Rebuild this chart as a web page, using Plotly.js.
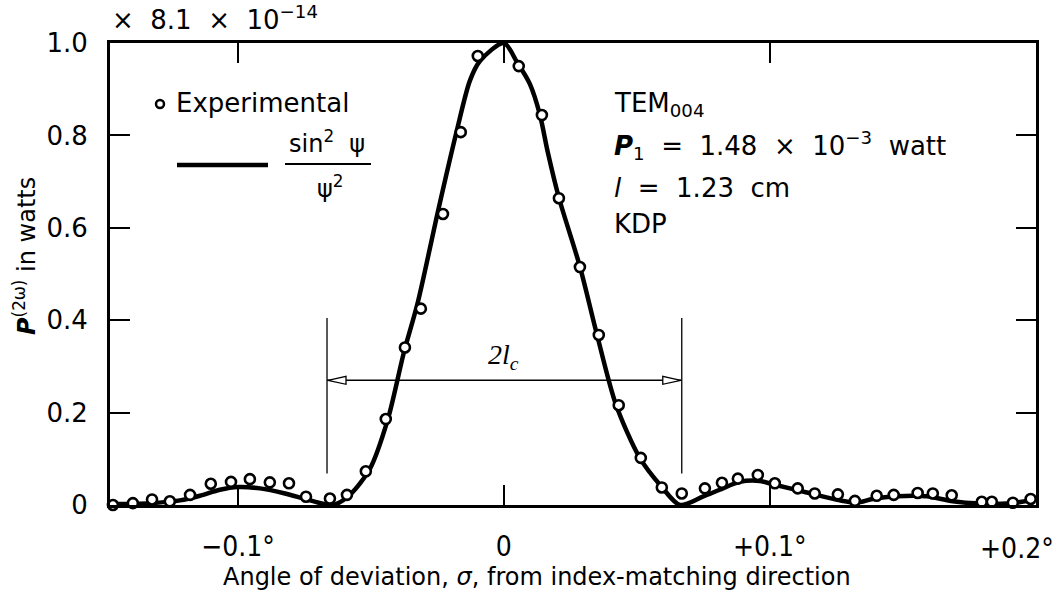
<!DOCTYPE html>
<html><head><meta charset="utf-8">
<script src="https://cdn.plot.ly/plotly-3.0.1.min.js"></script>
<style>html,body{margin:0;padding:0;background:#fff}</style>
</head><body>
<div id="chart" style="width:1060px;height:590px"></div>
<script>
// Experimental points: angle of deviation (degrees) and normalized power
const expAngle = [-0.147,-0.1395,-0.1323,-0.1256,-0.1180,-0.1102,-0.1026,-0.0955,-0.0880,-0.0808,-0.0744,-0.0654,-0.0590,-0.0519,-0.0444,-0.0372,-0.0312,-0.0229,-0.0162,-0.0098,0.0056,0.0143,0.0207,0.0286,0.0357,0.0432,0.0515,0.0594,0.0669,0.0756,0.0820,0.0880,0.0955,0.1019,0.1105,0.1169,0.1256,0.1320,0.1402,0.1466,0.1556,0.1613,0.1684,0.1797,0.1835,0.1914,0.1981];
const expPower = [0.0,0.004,0.012,0.008,0.022,0.046,0.050,0.056,0.049,0.047,0.018,0.014,0.022,0.073,0.186,0.341,0.425,0.630,0.807,0.972,0.950,0.844,0.664,0.515,0.368,0.216,0.102,0.038,0.025,0.036,0.048,0.057,0.065,0.047,0.036,0.025,0.023,0.009,0.020,0.022,0.026,0.025,0.021,0.007,0.007,0.005,0.013];

// Theoretical curve sin^2(psi)/psi^2 as drawn
const curveAngle = [-0.1481,-0.1331,-0.1218,-0.1143,-0.1068,-0.1000,-0.0917,-0.0823,-0.0729,-0.0643,-0.0579,-0.0504,-0.0436,-0.0376,-0.0323,-0.0248,-0.0177,-0.0128,-0.0090,0,0.0049,0.0098,0.0135,0.0165,0.0207,0.0286,0.0350,0.0421,0.0511,0.0594,0.0662,0.0748,0.0812,0.0887,0.0962,0.1011,0.1139,0.1263,0.1327,0.1387,0.1477,0.1590,0.1688,0.1789,0.1891,0.1989];
const curvePower = [0.002,0.004,0.010,0.020,0.033,0.039,0.036,0.025,0.010,0.0,0.022,0.078,0.186,0.33,0.44,0.635,0.81,0.918,0.961,1.0,0.959,0.911,0.846,0.764,0.665,0.516,0.369,0.218,0.102,0.039,0.0,0.018,0.033,0.050,0.052,0.045,0.027,0.010,0.005,0.013,0.019,0.019,0.008,0.003,0.003,0.011];

// Tick labels
const xTickVals = [-0.1, 0, 0.1, 0.2];
const xTickText = ["\u22120.1\u00B0", "0", "+0.1\u00B0", "+0.2\u00B0"];
const yTickVals = [0, 0.2, 0.4, 0.6, 0.8, 1.0];
const yTickText = ["0", "0.2", "0.4", "0.6", "0.8", "1.0"];

// 2l_c marker (coherence length bracket)
const lcLeft = -0.0665, lcRight = 0.0669, lcArrowY = 0.27, lcTop = 0.405, lcBottom = 0.068;

const W = 1060, H = 590, M = {l:110, r:24, t:43, b:85};
const PW = W - M.l - M.r, PH = H - M.t - M.b;
const px = x => (x - M.l) / PW;            // pixel -> paper x
const py = y => (H - M.b - y) / PH;        // pixel -> paper y

const FONT = "DejaVu Sans, sans-serif";
const COND = "DejaVu Sans Condensed, DejaVu Sans, sans-serif";

const traces = [
  {x: curveAngle, y: curvePower, mode: 'lines', type: 'scatter',
   line: {color: '#000', width: 4.5, shape: 'spline', smoothing: 0.8}, hoverinfo: 'skip', showlegend: false},
  {x: expAngle, y: expPower, mode: 'markers', type: 'scatter', cliponaxis: false,
   marker: {symbol: 'circle', size: 10, color: '#fff', line: {color: '#000', width: 2.6}}, showlegend: false}
];

const ann = [];
const shapes = [];
function txt(text, x, y, opts) {
  ann.push(Object.assign({text: text, xref: 'paper', yref: 'paper', x: px(x), y: py(y),
    xanchor: 'left', yanchor: 'middle', showarrow: false,
    font: {family: FONT, size: 26, color: '#000'}}, opts || {}));
}
// last x tick label sits at the right frame edge: right-align it so it stays inside the page
const lastTick = xTickVals.length - 1;
const axisTickText = xTickText.map((t, i) => i === lastTick ? "" : t);
ann.push({text: xTickText[lastTick], xref: 'x', yref: 'paper', x: xTickVals[lastTick], y: 0, yshift: -25,
  xshift: 20, xanchor: 'right', yanchor: 'top', showarrow: false,
  font: {family: COND, size: 28, color: '#000'}});

// top scale factor
txt("\u00D7  8.1  \u00D7  10<sup>\u221214</sup>", 110, 18, {font: {family: FONT, size: 26, color: '#000'}});
// legend
shapes.push({type: 'circle', xref: 'paper', yref: 'paper', xsizemode: 'pixel', ysizemode: 'pixel',
  xanchor: px(160), yanchor: py(104), x0: -4, x1: 4, y0: -4, y1: 4,
  line: {color: '#000', width: 2.5}, fillcolor: '#fff'});
txt("Experimental", 174, 103);
shapes.push({type: 'line', xref: 'paper', yref: 'paper', x0: px(177), x1: px(268), y0: py(165), y1: py(165),
  line: {color: '#000', width: 4.5}});
txt("sin<sup>2</sup>  \u03C8", 327, 142, {xanchor: 'center', font: {family: FONT, size: 24, color: '#000'}});
shapes.push({type: 'line', xref: 'paper', yref: 'paper', x0: px(285), x1: px(371), y0: py(164), y1: py(164),
  line: {color: '#000', width: 2}});
txt("\u03C8<sup>2</sup>", 330, 187, {xanchor: 'center', font: {family: FONT, size: 24, color: '#000'}});
// right info block
txt("TEM<sub>004</sub>", 612, 104);
txt("<b><i>P</i></b><sub>1</sub>  =  1.48  \u00D7  10<sup>\u22123</sup>  watt", 612, 146);
txt("<i>l</i>  =  1.23  cm", 612, 188);
txt("KDP", 612, 224);
// axis titles
txt("Angle of deviation, <i>\u03C3</i>, from index-matching direction", 537, 577,
  {xanchor: 'center', font: {family: FONT, size: 24, color: '#000'}});
txt("<b><i>P</i></b><sup>(2\u03C9)</sup> in watts", 25, 256,
  {xanchor: 'center', textangle: -90, font: {family: FONT, size: 24, color: '#000'}});
// 2l_c label
ann.push({text: "<i>2l<sub>c</sub></i>", xref: 'x', yref: 'y', x: 0.0, y: lcArrowY, yshift: 24,
  xanchor: 'center', yanchor: 'middle', showarrow: false,
  font: {family: 'Liberation Serif, serif', size: 28, color: '#000'}});
// 2l_c bracket: vertical lines and double arrow
shapes.push({type: 'line', xref: 'x', yref: 'y', x0: lcLeft, x1: lcLeft, y0: lcBottom, y1: lcTop, line: {color: '#000', width: 1.3}});
shapes.push({type: 'line', xref: 'x', yref: 'y', x0: lcRight, x1: lcRight, y0: lcBottom, y1: lcTop, line: {color: '#000', width: 1.3}});
shapes.push({type: 'line', xref: 'x', yref: 'y', x0: lcLeft, x1: lcRight, y0: lcArrowY, y1: lcArrowY, line: {color: '#000', width: 1.6}});
// open arrowheads (drawn in pixel units anchored at the bracket ends)
shapes.push({type: 'path', xref: 'x', yref: 'y', xsizemode: 'pixel', ysizemode: 'pixel',
  xanchor: lcLeft, yanchor: lcArrowY, path: 'M 1 0 L 19 4 L 19 -4 Z', line: {color: '#000', width: 1.3}, fillcolor: '#fff'});
shapes.push({type: 'path', xref: 'x', yref: 'y', xsizemode: 'pixel', ysizemode: 'pixel',
  xanchor: lcRight, yanchor: lcArrowY, path: 'M -1 0 L -19 4 L -19 -4 Z', line: {color: '#000', width: 1.3}, fillcolor: '#fff'});

const axisCommon = {showline: true, linecolor: '#000', linewidth: 3, mirror: 'ticks',
  ticks: 'inside', ticklen: 20, tickwidth: 2, tickcolor: '#000', showgrid: false, zeroline: false, fixedrange: true};

const layout = {
  width: W, height: H, margin: M, paper_bgcolor: '#fff', plot_bgcolor: '#fff', showlegend: false,
  xaxis: Object.assign({}, axisCommon, {range: [-0.1481, 0.2001], tickmode: 'array', tickvals: xTickVals, ticktext: axisTickText,
    ticklabelstandoff: 14, ticklabeloverflow: 'allow', tickfont: {family: COND, size: 28, color: '#000'}}),
  yaxis: Object.assign({}, axisCommon, {range: [0, 1.0], tickmode: 'array', tickvals: yTickVals, ticktext: yTickText,
    ticklabelstandoff: 14, tickfont: {family: FONT, size: 26, color: '#000'}}),
  annotations: ann, shapes: shapes
};
Plotly.newPlot('chart', traces, layout, {displayModeBar: false, staticPlot: true});
</script>
</body></html>
